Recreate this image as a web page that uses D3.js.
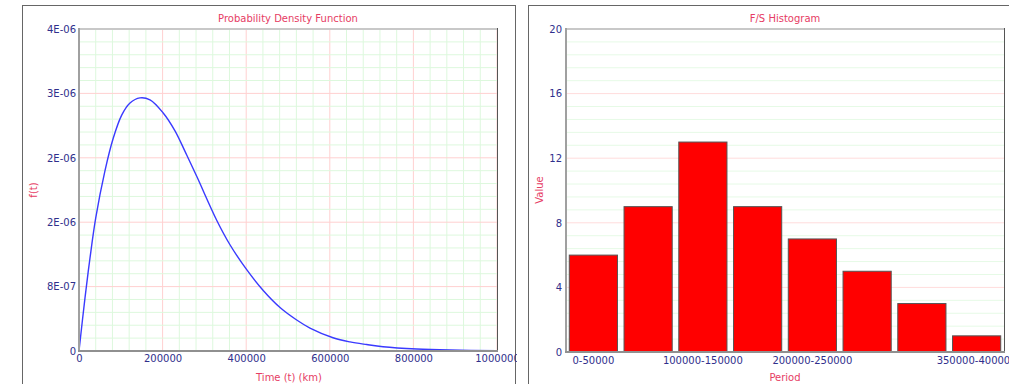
<!DOCTYPE html>
<html>
<head>
<meta charset="utf-8">
<script src="https://cdn.jsdelivr.net/npm/d3@7"></script>
<style>
  body { margin: 0; background: #fff; }
  svg text { font-family: "DejaVu Sans", Verdana, sans-serif; }
</style>
</head>
<body>
<div id="chart"></div>
<script>
// datos de la curva
const pdfTime = [0, 14350, 26300, 39950, 62200, 82050, 102150, 122000, 145900, 169850,
  200950, 229650, 253600, 281600, 329400, 361200, 401200, 440200, 480900, 520800,
  552600, 607700, 648300, 688300, 727300, 807900, 887600, 1000000];
const pdfValue = [0, 0.66e-6, 1.155e-6, 1.65e-6, 2.24e-6, 2.645e-6, 2.93e-6, 3.08e-6, 3.145e-6, 3.12e-6,
  2.96e-6, 2.735e-6, 2.48e-6, 2.17e-6, 1.625e-6, 1.32e-6, 1.01e-6, 0.755e-6, 0.54e-6, 0.385e-6,
  0.285e-6, 0.165e-6, 0.113e-6, 0.08e-6, 0.053e-6, 0.025e-6, 0.012e-6, 0.004e-6];
const pdfXTicks = [0, 200000, 400000, 600000, 800000, 1000000];
const pdfXLabels = ["0", "200000", "400000", "600000", "800000", "1000000"];
const pdfYTicks = [0, 8e-7, 1.6e-6, 2.4e-6, 3.2e-6, 4e-6];
const pdfYLabels = ["0", "8E-07", "2E-06", "2E-06", "3E-06", "4E-06"];

// histograma
const periods = ["0-50000", "50000-100000", "100000-150000", "150000-200000",
  "200000-250000", "250000-300000", "300000-350000", "350000-400000"];
const counts = [6, 9, 13, 9, 7, 5, 3, 1];
const shownPeriods = ["0-50000", "100000-150000", "200000-250000", "350000-400000"];
const histYTicks = [0, 4, 8, 12, 16, 20];

const width = 1009;
const height = 384;
const titleColor = "#e63c64";
const tickColor = "#2f2f8c";

let svg = d3.select("#chart").append("svg")
  .attr("width", width)
  .attr("height", height);

// ---------- Grafico 1 ----------
let p1 = svg.append("svg")
  .attr("x", 0).attr("y", 0)
  .attr("width", 517).attr("height", height);

p1.append("rect")
  .attr("x", 22.5).attr("y", 5.5)
  .attr("width", 493).attr("height", 420)
  .attr("fill", "none").attr("stroke", "#666");

let x1 = d3.scaleLinear().domain([0, 1000000]).range([79, 497]);
let y1 = d3.scaleLinear().domain([0, 4e-6]).range([351, 29]);

let minorX1 = d3.range(0, 26).map(i => i * 40000);
let minorY1 = d3.range(0, 26).map(i => i * 1.6e-7);

p1.append("g").selectAll("line").data(minorX1).join("line")
  .attr("x1", d => x1(d)).attr("x2", d => x1(d))
  .attr("y1", 29).attr("y2", 351)
  .attr("stroke", (d, i) => i % 5 == 0 ? "#ffd0d0" : "#ddf8dd");
p1.append("g").selectAll("line").data(minorY1).join("line")
  .attr("y1", d => y1(d)).attr("y2", d => y1(d))
  .attr("x1", 79).attr("x2", 497)
  .attr("stroke", (d, i) => i % 5 == 0 ? "#ffd0d0" : "#ddf8dd");

// bordes del area
p1.append("line").attr("x1", 79).attr("x2", 497).attr("y1", 29).attr("y2", 29)
  .attr("stroke", "#c8c8c8").attr("stroke-width", 2);
p1.append("line").attr("x1", 497.5).attr("x2", 497.5).attr("y1", 28).attr("y2", 352)
  .attr("stroke", "#555");

let line = d3.line()
  .x((d, i) => x1(pdfTime[i]))
  .y(d => y1(d))
  .curve(d3.curveCatmullRom.alpha(0.5));

p1.append("path")
  .datum(pdfValue)
  .attr("d", line)
  .attr("fill", "none")
  .attr("stroke", "#3a3aff")
  .attr("stroke-width", 1.4);

p1.append("line").attr("x1", 79).attr("x2", 79).attr("y1", 28).attr("y2", 352)
  .attr("stroke", "#a0a0a0").attr("stroke-width", 2);
p1.append("line").attr("x1", 78).attr("x2", 498).attr("y1", 351).attr("y2", 351)
  .attr("stroke", "#909090").attr("stroke-width", 2);

let xAxis1 = p1.append("g")
  .attr("transform", "translate(0,351)")
  .call(d3.axisBottom(x1).tickValues(pdfXTicks).tickFormat((d, i) => pdfXLabels[i]).tickSize(0).tickPadding(4));
let yAxis1 = p1.append("g")
  .attr("transform", "translate(79,0)")
  .call(d3.axisLeft(y1).tickValues(pdfYTicks).tickFormat((d, i) => pdfYLabels[i]).tickSize(0).tickPadding(3));

[xAxis1, yAxis1].forEach(a => {
  a.select(".domain").remove();
  a.selectAll("text").attr("fill", tickColor).style("font-size", "10px");
});

p1.append("text")
  .attr("x", 288).attr("y", 22)
  .attr("text-anchor", "middle")
  .attr("fill", titleColor).style("font-size", "10px")
  .text("Probability Density Function");
p1.append("text")
  .attr("x", 289).attr("y", 381)
  .attr("text-anchor", "middle")
  .attr("fill", titleColor).style("font-size", "10px")
  .text("Time (t) (km)");
p1.append("text")
  .attr("transform", "translate(37,190) rotate(-90)")
  .attr("text-anchor", "middle")
  .attr("fill", titleColor).style("font-size", "10px")
  .text("f(t)");

// ---------- Grafico 2 ----------
let p2 = svg.append("g");

p2.append("rect")
  .attr("x", 528.5).attr("y", 5.5)
  .attr("width", 500).attr("height", 420)
  .attr("fill", "none").attr("stroke", "#666");

let x2 = d3.scaleBand().domain(periods).range([566, 1004]).paddingInner(0.12).paddingOuter(0.06);
let y2 = d3.scaleLinear().domain([0, 20]).range([352, 29]);

let minorY2 = d3.range(0, 26).map(i => i * 0.8);
p2.append("g").selectAll("line").data(minorY2).join("line")
  .attr("y1", d => y2(d)).attr("y2", d => y2(d))
  .attr("x1", 566).attr("x2", 1004)
  .attr("stroke", (d, i) => i % 5 == 0 ? "#ffdcdc" : "#e6fae6");

p2.append("line").attr("x1", 566).attr("x2", 1004).attr("y1", 29).attr("y2", 29)
  .attr("stroke", "#c8c8c8").attr("stroke-width", 2);
p2.append("line").attr("x1", 1004.5).attr("x2", 1004.5).attr("y1", 28).attr("y2", 353)
  .attr("stroke", "#555");

p2.append("g").selectAll("rect").data(counts).join("rect")
  .attr("x", (d, i) => x2(periods[i]))
  .attr("y", d => y2(d))
  .attr("width", x2.bandwidth())
  .attr("height", d => y2(0) - y2(d))
  .attr("fill", "#ff0000")
  .attr("stroke", "#555")
  .attr("stroke-width", 1);

p2.append("line").attr("x1", 566).attr("x2", 566).attr("y1", 28).attr("y2", 353)
  .attr("stroke", "#a0a0a0").attr("stroke-width", 2);
p2.append("line").attr("x1", 565).attr("x2", 1005).attr("y1", 352).attr("y2", 352)
  .attr("stroke", "#909090").attr("stroke-width", 2);

let xAxis2 = p2.append("g")
  .attr("transform", "translate(0,352)")
  .call(d3.axisBottom(x2).tickValues(shownPeriods).tickSize(0).tickPadding(5));
let yAxis2 = p2.append("g")
  .attr("transform", "translate(566,0)")
  .call(d3.axisLeft(y2).tickValues(histYTicks).tickSize(0).tickPadding(4));

[xAxis2, yAxis2].forEach(a => {
  a.select(".domain").remove();
  a.selectAll("text").attr("fill", tickColor).style("font-size", "10px");
});

p2.append("text")
  .attr("x", 785).attr("y", 22)
  .attr("text-anchor", "middle")
  .attr("fill", titleColor).style("font-size", "10px")
  .text("F/S Histogram");
p2.append("text")
  .attr("x", 785).attr("y", 381)
  .attr("text-anchor", "middle")
  .attr("fill", titleColor).style("font-size", "10px")
  .text("Period");
p2.append("text")
  .attr("transform", "translate(543,190) rotate(-90)")
  .attr("text-anchor", "middle")
  .attr("fill", titleColor).style("font-size", "10px")
  .text("Value");
</script>
</body>
</html>
